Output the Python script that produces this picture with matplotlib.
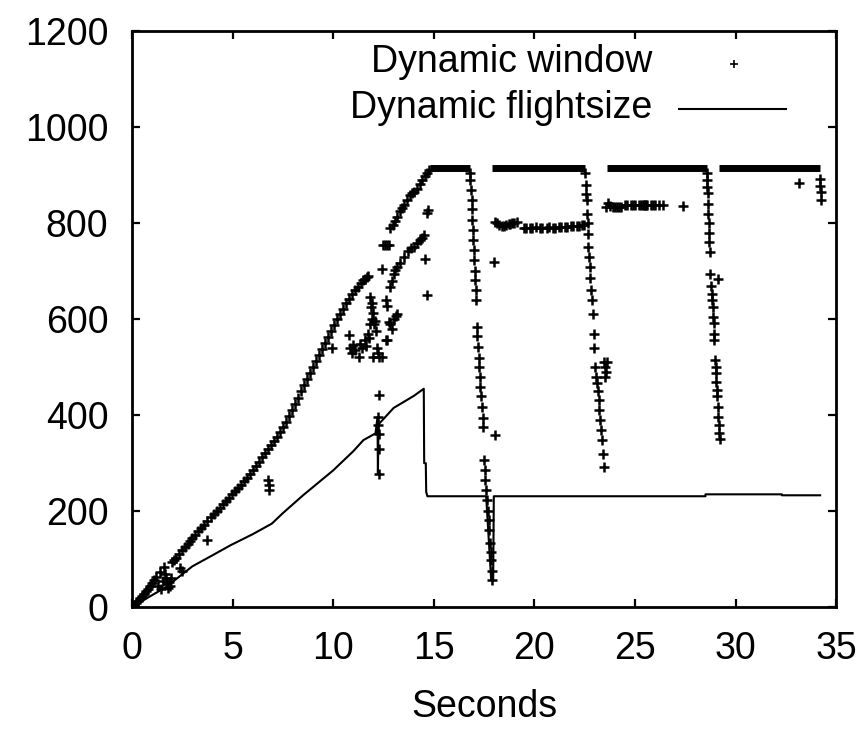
import numpy as np
import matplotlib
matplotlib.use("Agg")
import matplotlib.pyplot as plt
from matplotlib.lines import Line2D

plt.rcParams['font.family'] = ['Liberation Sans', 'DejaVu Sans']

# dynamic flightsize (line vertices)
fs_t = [0.0, 1.0, 1.7, 2.0, 3.0, 4.0, 4.9, 6.0, 6.95, 7.5, 8.5, 10.0, 11.0, 11.5,
        12.1, 12.2, 12.22, 12.25, 12.3, 13.0, 14.0, 14.5, 14.52, 14.6, 14.62, 14.68,
        17.6, 17.85, 17.95, 17.98, 28.5, 28.5, 32.3, 32.3, 34.2]
fs_v = [0, 25, 42, 52, 85, 108, 129, 152, 174, 196, 233, 285, 325, 348,
        362, 396, 278, 380, 383, 415, 440, 455, 300, 300, 240, 231,
        231, 56, 56, 231, 231, 235, 235, 233, 233]

# dynamic window: dense runs at the maximum (start, end, value)
run_start = [14.8, 17.9, 23.6, 29.16]
run_end = [16.8, 22.5, 28.58, 34.21]
run_value = [914, 914, 914, 914]

# dynamic window: individual samples
# slow start ramp
ramp_t = [0.0, 0.2, 0.4, 0.6, 0.8, 1.0, 1.2, 1.4, 1.6, 1.65, 1.7, 1.75, 1.8, 1.85, 1.9,
          1.3, 1.45, 1.55, 1.95, 2.0, 2.2, 2.5, 2.8, 3.0, 3.3, 3.6, 3.9, 4.2, 4.5, 4.8,
          5.1, 5.4, 5.7, 6.0, 6.3, 6.6, 6.9, 7.2, 7.5, 7.8, 8.1, 8.4, 8.7, 9.0, 9.3,
          9.6, 9.9, 10.2, 10.5, 10.8, 11.1, 11.4, 11.6, 11.75]
ramp_v = [0, 8, 18, 28, 38, 50, 62, 74, 84, 70, 60, 48, 40, 52, 45,
          45, 38, 55, 60, 95, 103, 118, 132, 143, 158, 172, 188, 200, 214, 228,
          242, 255, 270, 285, 302, 322, 338, 355, 375, 398, 423, 450, 475, 500, 525,
          550, 575, 600, 622, 643, 660, 675, 684, 690]
# extra ramp samples that thicken the band
ramp2_t = [0.1, 0.3, 0.5, 0.7, 0.9, 1.1, 2.1, 2.35, 2.65, 2.9, 3.15, 3.45, 3.75, 4.05,
           4.35, 4.65, 4.95, 5.25, 5.55, 5.85, 6.15, 6.45, 6.75, 7.05, 7.35, 7.65,
           7.95, 8.25, 8.55, 8.85, 9.15, 9.45, 9.75, 10.05, 10.35, 10.65, 10.95,
           11.25, 11.5, 11.7]
ramp2_v = [4, 13, 23, 33, 44, 56, 99, 110, 125, 138, 150, 165, 180, 194,
           207, 221, 235, 248, 262, 278, 293, 312, 330, 346, 365, 386,
           410, 436, 462, 488, 512, 538, 562, 588, 611, 633, 652,
           668, 681, 688]

# scattered samples, second branch and clusters
pts_t = [2.4, 2.5, 3.71, 6.78, 6.8, 6.82, 9.93,
         10.76, 10.84, 10.95, 11.0, 11.1, 11.26, 11.34, 11.45, 11.59, 11.65, 11.75, 11.8,
         11.83, 11.9, 11.92, 11.95, 12.0, 12.05, 12.09, 12.12, 12.17, 12.2, 12.25, 12.42,
         12.0, 11.85, 12.25, 12.22, 12.22, 12.25, 12.25, 12.25,
         12.45, 12.55, 12.65, 12.75, 12.4, 12.6, 12.65, 12.75, 12.68, 12.62, 12.83, 12.9,
         13.0, 13.1, 13.16,
         12.83, 12.9, 13.0, 13.08, 13.16, 13.3, 13.5, 13.7, 13.85, 14.0, 14.15, 14.3, 14.4,
         14.49, 14.58, 14.67, 14.7, 14.65,
         12.83, 12.95, 13.05, 13.16, 13.3, 13.4, 13.5, 13.65, 13.8, 13.9, 14.0, 14.16,
         14.3, 14.4, 14.55, 14.65, 14.74]
pts_v = [81, 75, 140, 264, 255, 243, 539,
         567, 540, 530, 547, 535, 522, 549, 540, 556, 545, 569, 560,
         646, 625, 633, 600, 613, 590, 596, 575, 540, 530, 522, 522,
         522, 590, 442, 396, 380, 360, 330, 278,
         754, 754, 754, 754, 705, 640, 628, 594, 556, 556, 590, 580,
         600, 606, 611,
         667, 680, 695, 703, 709, 718, 730, 742, 748, 751, 758, 765, 770,
         775, 726, 650, 827, 822,
         789, 797, 805, 813, 825, 832, 838, 848, 858, 862, 866, 872,
         882, 889, 898, 905, 910]

# the three window drops
drop_t = [16.8, 16.82, 16.85, 16.88, 16.9, 16.92, 16.95, 16.97, 17.0, 17.0, 17.03, 17.05,
          17.08, 17.1, 17.14, 17.16, 17.19, 17.22, 17.26, 17.28, 17.3, 17.35, 17.39, 17.42,
          17.44, 17.5, 17.53, 17.55, 17.6, 17.65, 17.68, 17.72, 17.75, 17.8, 17.82, 17.85,
          17.88, 17.9, 18.05, 17.97,
          22.53, 22.55, 22.58, 22.6, 22.62, 22.64, 22.64, 22.68, 22.7, 22.74, 22.78, 22.82,
          22.86, 22.9, 22.94, 22.98, 23.02, 23.06, 23.1, 23.14, 23.19, 23.23, 23.27, 23.3,
          23.36, 23.4, 23.44, 23.5, 23.55, 23.6, 23.5, 23.45,
          28.58, 28.6, 28.6, 28.61, 28.63, 28.64, 28.66, 28.68, 28.7, 28.71, 28.75, 29.1,
          28.78, 28.8, 28.83, 28.86, 28.88, 28.91, 28.93, 28.94, 28.97, 29.0, 29.02, 29.04,
          29.06, 29.08, 29.11, 29.13, 29.16, 29.18, 29.2,
          33.14, 34.2, 34.2, 34.22, 34.22]
drop_v = [905, 890, 870, 848, 830, 806, 785, 765, 745, 723, 700, 681,
          660, 640, 584, 565, 542, 520, 501, 480, 459, 440, 417, 395,
          376, 306, 285, 265, 245, 223, 200, 181, 160, 133, 115, 98,
          75, 56, 358, 719,
          905, 880, 860, 848, 820, 800, 778, 750, 730, 709, 685, 660,
          640, 610, 570, 540, 501, 480, 466, 450, 431, 410, 390, 370,
          348, 320, 292, 501, 490, 510, 480, 510,
          905, 890, 875, 862, 840, 820, 800, 780, 760, 740, 695, 683,
          670, 653, 640, 625, 605, 591, 570, 556, 514, 500, 487, 470,
          452, 440, 417, 396, 380, 362, 351,
          883, 892, 878, 865, 848]

# intermediate levels after the first two drops
level_t = [18.05, 18.15, 18.25, 18.4, 18.5, 18.6, 18.75, 18.8, 18.9, 19.0, 19.12,
           19.5, 19.6, 19.8, 19.9, 20.1, 20.3, 20.4, 20.6, 20.7, 20.9, 21.0, 21.2, 21.3,
           21.5, 21.6, 21.8, 21.9, 22.1, 22.2, 22.35, 22.45,
           23.55, 23.65, 23.75, 23.9, 24.0, 24.1, 24.2, 24.3, 24.5, 24.6, 24.8, 24.9, 25.0,
           25.2, 25.3, 25.4, 25.45, 25.5, 25.55, 25.6, 25.8, 25.9, 26.0, 26.2, 26.4, 27.4]
level_v = [803, 800, 797, 795, 794, 797, 799, 798, 800, 800, 803,
           790, 789, 790, 791, 792, 790, 790, 791, 792, 790, 790, 792, 793,
           792, 792, 794, 794, 795, 795, 796, 797,
           834, 842, 836, 834, 834, 834, 834, 834, 837, 837, 837, 837, 837,
           837, 837, 837, 837, 837, 837, 837, 837, 837, 837, 837, 837, 836]

fig = plt.figure(figsize=(8.63, 7.44), dpi=100)
ax = fig.add_axes([0.153, 0.184, 0.816, 0.774])

mk = dict(marker='+', linestyle='none', color='black', markersize=7.5, markeredgewidth=1.8)
ax.plot(ramp_t, ramp_v, **mk)
ax.plot(ramp2_t, ramp2_v, **mk)
ax.plot(pts_t, pts_v, **mk)
ax.plot(drop_t, drop_v, **mk)
ax.plot(level_t, level_v, **mk)
ax.hlines(run_value, run_start, run_end, colors='black', linewidth=5.0)
ax.plot(fs_t, fs_v, color='black', linewidth=1.5)

ax.set_xlim(0, 35)
ax.set_ylim(0, 1200)
ax.set_xticks(np.arange(0, 36, 5))
ax.set_yticks(np.arange(0, 1201, 200))
ax.tick_params(direction='in', length=6, width=1.6, labelsize=27, pad=17,
               top=True, right=True)
for s in ax.spines.values():
    s.set_linewidth(2.0)
ax.set_xlabel('Seconds', fontsize=27, labelpad=16)

# gnuplot style key: right aligned text, sample on the right
ax.text(0.739, 0.946, 'Dynamic window', transform=ax.transAxes, ha='right', va='center', fontsize=27)
ax.text(0.739, 0.866, 'Dynamic flightsize', transform=ax.transAxes, ha='right', va='center', fontsize=27)
ax.add_line(Line2D([0.855], [0.943], transform=ax.transAxes, marker='+', color='black',
                   markersize=6, markeredgewidth=1.2, linestyle='none'))
ax.add_line(Line2D([0.777, 0.929], [0.865, 0.865], transform=ax.transAxes,
                   color='black', linewidth=1.5))

fig.savefig('out.png', dpi=100)
